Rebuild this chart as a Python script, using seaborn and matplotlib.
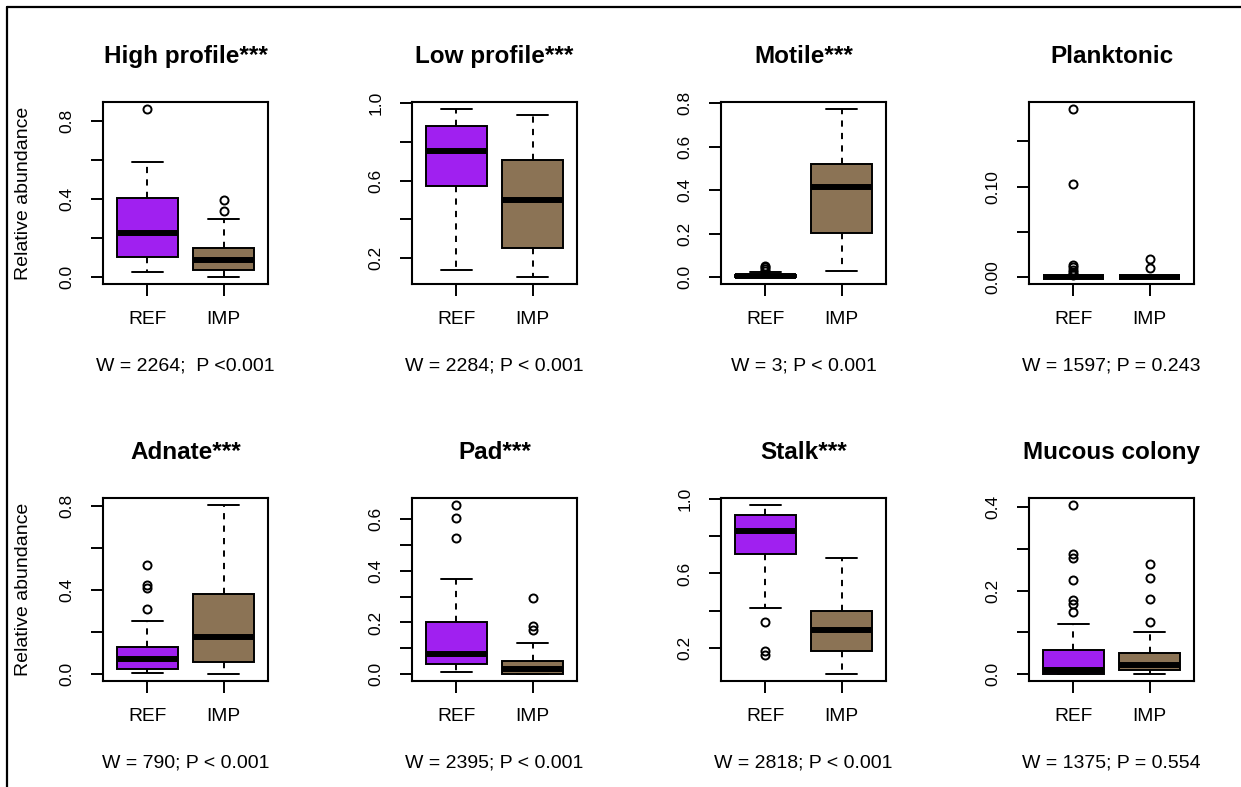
import matplotlib
matplotlib.use("Agg")
import matplotlib.pyplot as plt
from matplotlib.lines import Line2D
import pandas as pd
import seaborn as sns

# ---------------- data ----------------
groups = ["REF", "IMP"]
group_colors = ["#A020F0", "#8B7355"]

titles = ["High profile***", "Low profile***", "Motile***", "Planktonic",
          "Adnate***", "Pad***", "Stalk***", "Mucous colony"]

stats_labels = ["W = 2264;  P <0.001", "W = 2284; P < 0.001", "W = 3; P < 0.001",
                "W = 1597; P = 0.243", "W = 790; P < 0.001", "W = 2395; P < 0.001",
                "W = 2818; P < 0.001", "W = 1375; P = 0.554"]

high_profile_ref = [0.026, 0.06, 0.104, 0.16, 0.225, 0.31, 0.405, 0.59, 0.862]
high_profile_imp = [0.0, 0.015, 0.03, 0.039, 0.055, 0.075, 0.09, 0.11, 0.13, 0.151,
                    0.298, 0.339, 0.393]

low_profile_ref = [0.137, 0.572, 0.753, 0.884, 0.971]
low_profile_imp = [0.102, 0.255, 0.500, 0.705, 0.937]

motile_ref = [0.0, 0.0, 0.0, 0.0005, 0.001, 0.001, 0.002, 0.002, 0.003, 0.003, 0.004,
              0.005, 0.006, 0.007, 0.008, 0.010, 0.022, 0.030, 0.037, 0.045, 0.052]
motile_imp = [0.031, 0.2015, 0.414, 0.522, 0.774]

planktonic_ref = [0.0, 0.0, 0.0, 0.0, 0.0, 0.0, 0.0, 0.0, 0.0, 0.0,
                  0.0, 0.0, 0.0, 0.0, 0.0, 0.0, 0.0, 0.0, 0.0, 0.0,
                  0.0, 0.0, 0.0, 0.0, 0.0,
                  0.002, 0.004, 0.006, 0.008, 0.011, 0.0135, 0.103, 0.186]
planktonic_imp = [0.0, 0.0, 0.0, 0.0, 0.0, 0.0, 0.0, 0.0, 0.0, 0.0, 0.0099, 0.0199]

adnate_ref = [0.006, 0.010, 0.015, 0.020, 0.024, 0.027, 0.035, 0.045, 0.055, 0.065,
              0.072, 0.080, 0.090, 0.100, 0.115, 0.127, 0.253, 0.311, 0.410, 0.425, 0.521]
adnate_imp = [0.0, 0.059, 0.175, 0.382, 0.805]

pad_ref = [0.008, 0.020, 0.030, 0.036, 0.041, 0.050, 0.060, 0.070, 0.079, 0.100,
           0.130, 0.170, 0.203, 0.370, 0.527, 0.605, 0.655]
pad_imp = [0.0, 0.0, 0.0, 0.0, 0.0, 0.005, 0.010, 0.015, 0.022, 0.030, 0.040, 0.046,
           0.052, 0.120, 0.171, 0.185, 0.295]

stalk_ref = [0.161, 0.186, 0.341, 0.417, 0.705, 0.740, 0.770, 0.800, 0.828, 0.850,
             0.870, 0.890, 0.912, 0.930, 0.945, 0.955, 0.968]
stalk_imp = [0.060, 0.186, 0.297, 0.399, 0.683]

mucous_ref = [0.0, 0.0, 0.0, 0.0, 0.0, 0.0, 0.0005, 0.001, 0.001, 0.002, 0.003, 0.004,
              0.005, 0.006, 0.008, 0.009, 0.011, 0.015, 0.020, 0.025, 0.030, 0.037,
              0.045, 0.052, 0.058, 0.121, 0.150, 0.168, 0.177, 0.226, 0.278, 0.289, 0.406]
mucous_imp = [0.0, 0.002, 0.004, 0.006, 0.008, 0.009, 0.011, 0.013, 0.016, 0.018,
              0.021, 0.026, 0.032, 0.038, 0.045, 0.051, 0.102, 0.126, 0.181, 0.230, 0.265]

ref_series = [high_profile_ref, low_profile_ref, motile_ref, planktonic_ref,
              adnate_ref, pad_ref, stalk_ref, mucous_ref]
imp_series = [high_profile_imp, low_profile_imp, motile_imp, planktonic_imp,
              adnate_imp, pad_imp, stalk_imp, mucous_imp]

ytick_values = [[0.0, 0.2, 0.4, 0.6, 0.8],
                [0.2, 0.4, 0.6, 0.8, 1.0],
                [0.0, 0.2, 0.4, 0.6, 0.8],
                [0.0, 0.05, 0.10, 0.15],
                [0.0, 0.2, 0.4, 0.6, 0.8],
                [0.0, 0.1, 0.2, 0.3, 0.4, 0.5, 0.6],
                [0.2, 0.4, 0.6, 0.8, 1.0],
                [0.0, 0.1, 0.2, 0.3, 0.4]]
ytick_labels = [["0.0", "", "0.4", "", "0.8"],
                ["0.2", "", "0.6", "", "1.0"],
                ["0.0", "0.2", "0.4", "0.6", "0.8"],
                ["0.00", "", "0.10", ""],
                ["0.0", "", "0.4", "", "0.8"],
                ["0.0", "", "0.2", "", "0.4", "", "0.6"],
                ["0.2", "", "0.6", "", "1.0"],
                ["0.0", "", "0.2", "", "0.4"]]

# ---------------- layout ----------------
sns.set_theme(style="white")
plt.rcParams["font.family"] = ["Liberation Sans", "DejaVu Sans"]

W, H = 1241, 787
fig = plt.figure(figsize=(W / 100, H / 100), dpi=100)
fig.patch.set_facecolor("white")

col_left = [103, 412, 721, 1029]
row_top = [102, 498]
row_bottom = [284, 681]
ax_w = 165

for i in range(8):
    r, c = divmod(i, 4)
    ax_h = row_bottom[r] - row_top[r]
    ax = fig.add_axes([col_left[c] / W, (H - row_bottom[r]) / H, ax_w / W, ax_h / H])
    ref, imp = ref_series[i], imp_series[i]
    df = pd.DataFrame({"group": ["REF"] * len(ref) + ["IMP"] * len(imp),
                       "value": ref + imp})
    sns.boxplot(data=df, x="group", y="value", hue="group", order=groups,
                hue_order=groups, palette=group_colors, saturation=1, width=0.8,
                linecolor="black", linewidth=1.4, whis=1.5, legend=False, ax=ax,
                flierprops=dict(marker="o", markerfacecolor="none",
                                markeredgecolor="black", markersize=5.8,
                                markeredgewidth=1.4),
                medianprops=dict(color="black", linewidth=4.3, solid_capstyle="butt"),
                whiskerprops=dict(color="black", linewidth=1.4, linestyle=(0, (3.2, 3.2))),
                capprops=dict(color="black", linewidth=1.4),
                boxprops=dict(edgecolor="black", linewidth=1.4))
    ax.set_xlim(-0.58, 1.58)
    vals = ref + imp
    lo, hi = min(vals), max(vals)
    ax.set_ylim(lo - 0.04 * (hi - lo), hi + 0.04 * (hi - lo))
    ax.set_xlabel("")
    ax.set_ylabel("")
    ax.set_yticks(ytick_values[i])
    ax.set_yticklabels(ytick_labels[i], rotation=90, va="center", fontsize=12.5)
    ax.set_xticks([0, 1])
    ax.set_xticklabels(groups, fontsize=13.8)
    ax.tick_params(axis="both", direction="out", length=8.5, width=1.4,
                   color="black", left=True, bottom=True, labelcolor="black")
    ax.tick_params(axis="y", pad=12)
    ax.tick_params(axis="x", pad=11)
    for sp in ax.spines.values():
        sp.set_visible(True)
        sp.set_color("black")
        sp.set_linewidth(1.5)
    ax.set_facecolor("white")
    ax.text(0.5, 1 + 39 / ax_h, titles[i], transform=ax.transAxes, ha="center",
            va="baseline", fontsize=17.5, fontweight="bold", color="black")
    ax.text(0.5, -82 / ax_h, stats_labels[i], transform=ax.transAxes, ha="center",
            va="center", fontsize=14, color="black")
    if c == 0:
        ax.text(-79 / ax_w, 0.5, "Relative abundance", transform=ax.transAxes,
                rotation=90, ha="center", va="center", fontsize=14, color="black")

# outer frame (left and top edges)
fig.add_artist(Line2D([7 / W, 7 / W], [0, 1 - 7 / H], color="black", lw=1.6,
                      transform=fig.transFigure))
fig.add_artist(Line2D([7 / W, 1], [1 - 7 / H, 1 - 7 / H], color="black", lw=1.6,
                      transform=fig.transFigure))

fig.savefig("out.png", dpi=100, facecolor="white")
